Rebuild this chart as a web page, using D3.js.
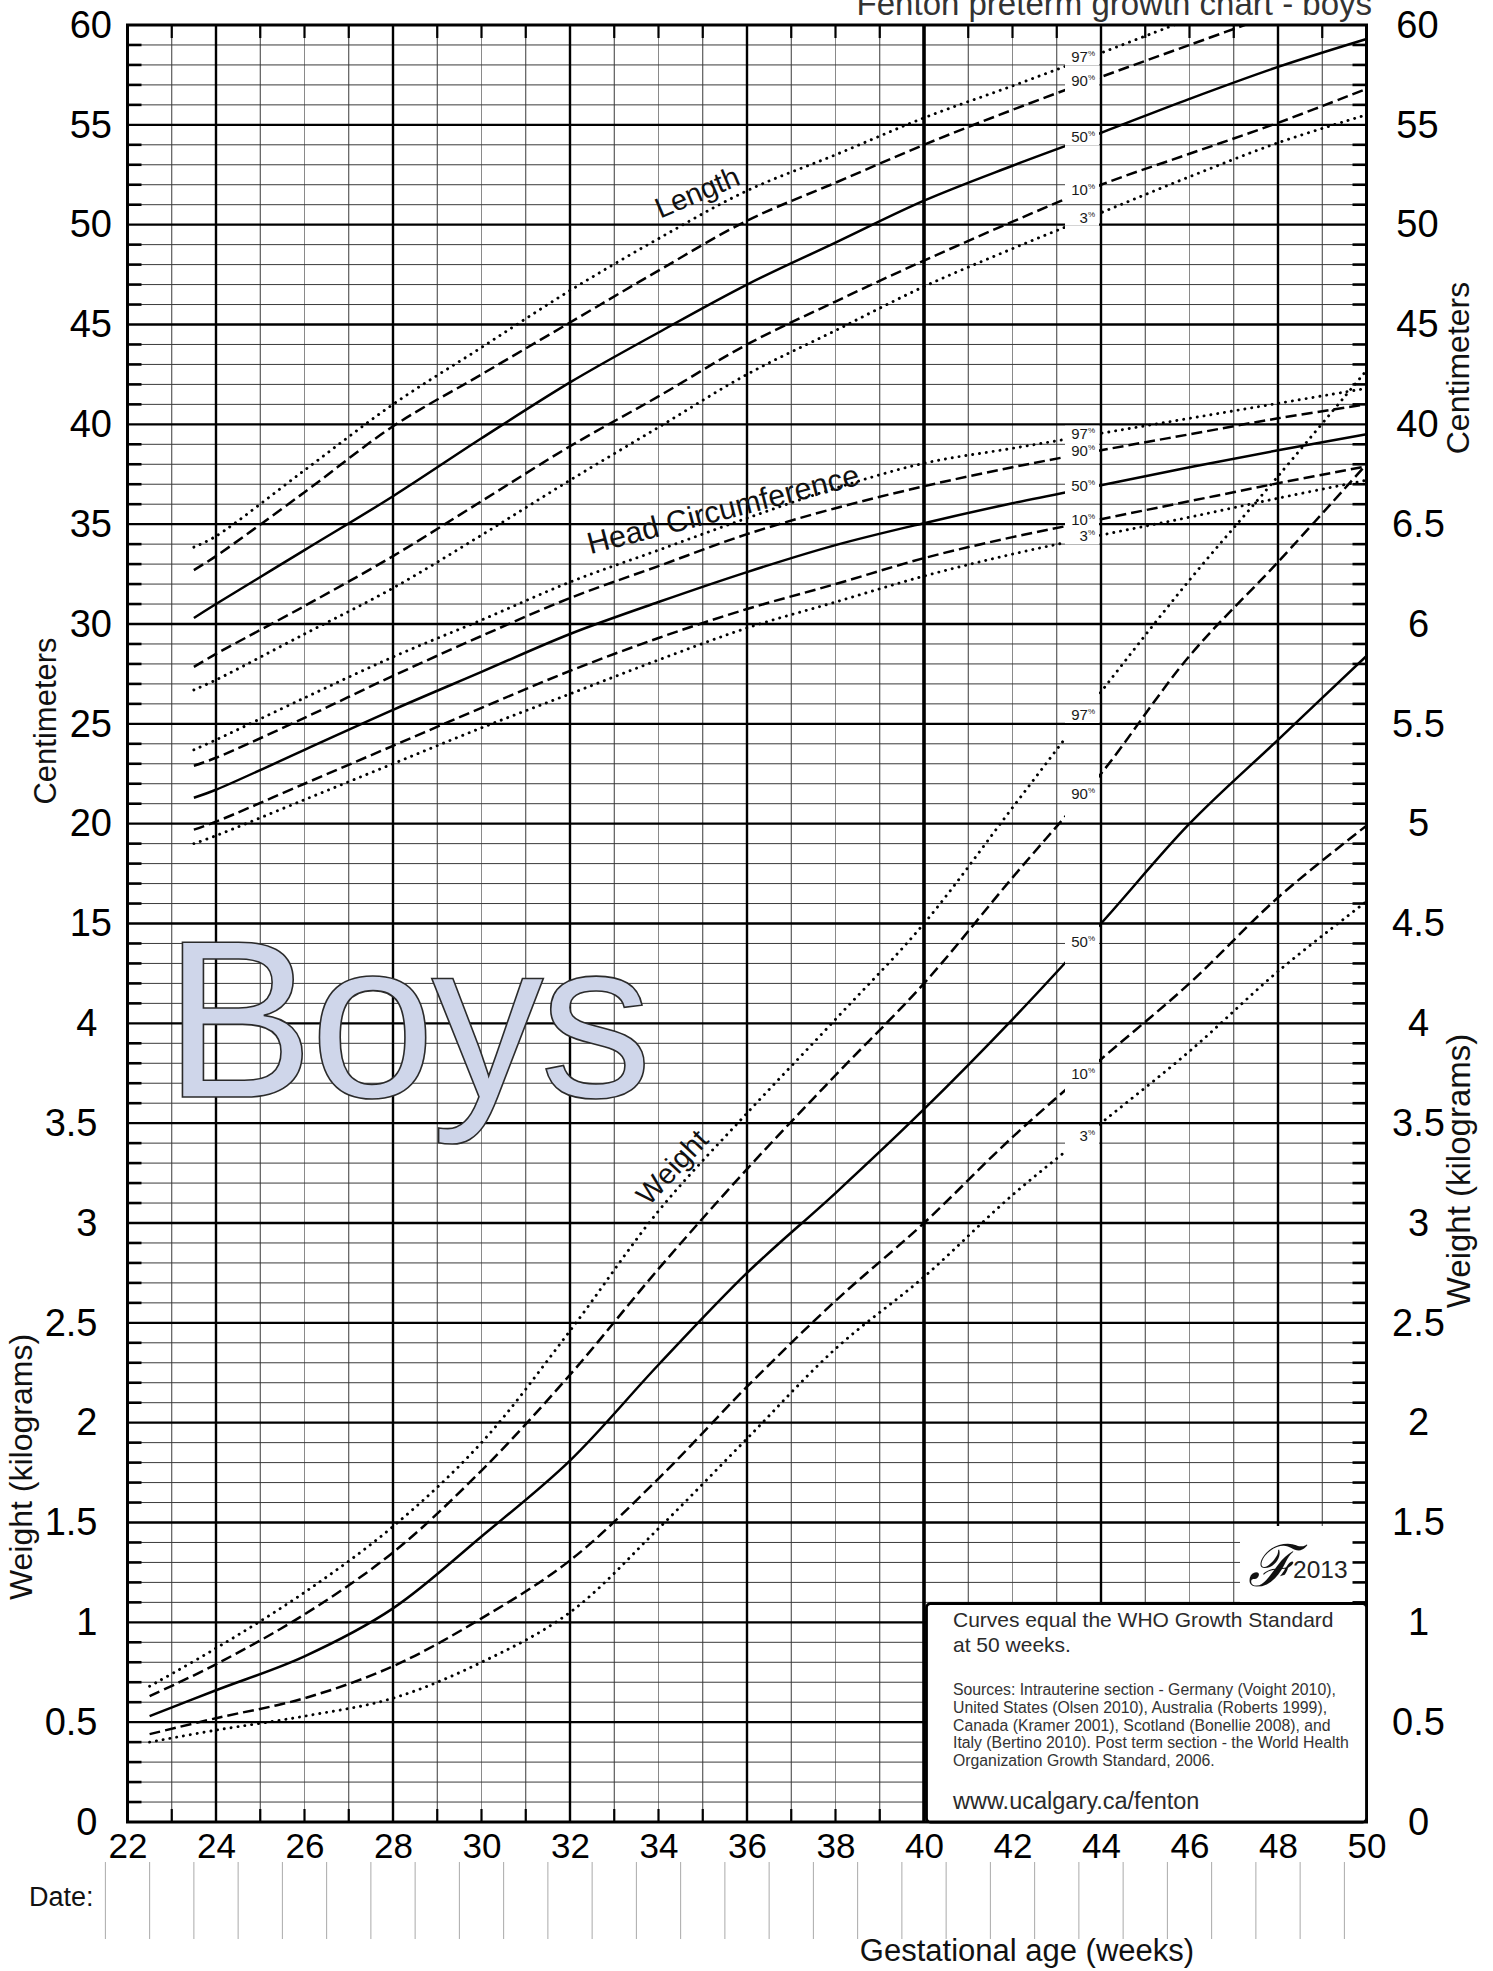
<!DOCTYPE html>
<html>
<head>
<meta charset="utf-8">
<script src="https://cdn.jsdelivr.net/npm/d3@7"></script>
<style>
  body { margin: 0; background: #fff; }
  svg text { font-family: "Liberation Sans", Arial, Helvetica, sans-serif; }
</style>
</head>
<body>
<div id="chart"></div>
<script>
// values
var percentiles = ["97", "90", "50", "10", "3"];

var lengthWeeks = [23.5, 24, 26, 28, 30, 32, 34, 36, 38, 40, 42, 44, 46, 48, 50];
var length97 = [33.85, 34.4, 37.7, 41.0, 43.85, 46.7, 49.3, 51.7, 53.5, 55.35, 56.95, 58.6, 60.3, null, null];
var length90 = [32.7, 33.4, 36.6, 39.9, 42.5, 45.1, 47.7, 50.2, 52.1, 54.0, 55.75, 57.4, 59.0, 60.6, null];
var length50 = [30.3, 31.0, 33.7, 36.4, 39.3, 42.1, 44.6, 47.0, 49.1, 51.2, 52.95, 54.6, 56.3, 57.9, 59.3];
var length10 = [27.85, 28.5, 30.9, 33.4, 36.15, 38.9, 41.4, 44.0, 46.15, 48.2, 50.15, 52.0, 53.55, 55.1, 56.8];
var length3 = [26.7, 27.2, 29.5, 31.8, 34.45, 37.2, 39.85, 42.5, 44.7, 46.9, 48.8, 50.6, 52.4, 54.1, 55.5];

var headWeeks = [23.5, 24, 26, 28, 30, 32, 34, 36, 38, 40, 42, 44, 46, 48, 50];
var head97 = [23.7, 24.2, 26.3, 28.35, 30.2, 32.1, 33.7, 35.3, 36.8, 38.05, 38.8, 39.55, 40.3, 41.05, 41.8];
var head90 = [22.9, 23.3, 25.3, 27.4, 29.4, 31.3, 32.9, 34.5, 35.8, 36.9, 37.85, 38.7, 39.5, 40.3, 41.0];
var head50 = [21.3, 21.7, 23.7, 25.7, 27.6, 29.5, 31.1, 32.6, 33.95, 35.05, 36.05, 36.95, 37.85, 38.7, 39.5];
var head10 = [19.7, 20.1, 22.0, 23.9, 25.8, 27.65, 29.3, 30.75, 32.0, 33.3, 34.35, 35.25, 36.15, 37.05, 37.9];
var head3 = [19.0, 19.4, 21.2, 23.0, 24.8, 26.5, 28.2, 29.8, 31.1, 32.4, 33.5, 34.45, 35.35, 36.3, 37.2];

var weightWeeks = [22.5, 24, 26, 28, 30, 32, 34, 36, 38, 40, 42, 44, 46, 48, 50];
var weight97 = [0.68, 0.87, 1.15, 1.48, 1.90, 2.46, 3.06, 3.55, 4.02, 4.50, 5.08, 5.66, 6.22, 6.74, 7.27];
var weight90 = [0.63, 0.79, 1.04, 1.35, 1.76, 2.24, 2.77, 3.27, 3.74, 4.20, 4.73, 5.25, 5.84, 6.31, 6.80];
var weight50 = [0.53, 0.66, 0.83, 1.07, 1.43, 1.81, 2.29, 2.75, 3.15, 3.57, 4.02, 4.50, 5.00, 5.42, 5.84];
var weight10 = [0.44, 0.52, 0.62, 0.78, 1.02, 1.31, 1.72, 2.18, 2.61, 3.00, 3.43, 3.82, 4.20, 4.63, 4.99];
var weight3 = [0.40, 0.46, 0.53, 0.62, 0.80, 1.05, 1.47, 1.92, 2.37, 2.73, 3.14, 3.50, 3.86, 4.26, 4.61];

var weekTicks = [22, 24, 26, 28, 30, 32, 34, 36, 38, 40, 42, 44, 46, 48, 50];
var cmTicksLeft = [15, 20, 25, 30, 35, 40, 45, 50, 55, 60];
var kgTicksLeft = [0, 0.5, 1, 1.5, 2, 2.5, 3, 3.5, 4];
var cmTicksRight = [40, 45, 50, 55, 60];
var kgTicksRight = [0, 0.5, 1, 1.5, 2, 2.5, 3, 3.5, 4, 4.5, 5, 5.5, 6, 6.5];

var sourceLines = [
    "Sources: Intrauterine section - Germany (Voight 2010),",
    "United States (Olsen 2010), Australia (Roberts 1999),",
    "Canada (Kramer 2001), Scotland (Bonellie 2008), and",
    "Italy (Bertino 2010). Post term section - the World Health",
    "Organization Growth Standard, 2006."
];

var width = 1493, height = 1971;
var plotLeft = 127.5, plotRight = 1366.5, plotTop = 25, plotBottom = 1822;

// one grid, 90 units high: 1 unit = 1 cm (offset 30) or 0.1 kg
var x = d3.scaleLinear().domain([22, 50]).range([plotLeft, plotRight]);
var y = d3.scaleLinear().domain([0, 90]).range([plotBottom, plotTop]);
function cmU(v) { return v + 30; }
function kgU(v) { return v * 10; }

var labelWeek = 43.55;
var gapX0 = 1065, gapX1 = 1099;

var svg = d3.select("#chart").append("svg")
    .attr("xmlns", "http://www.w3.org/2000/svg")
    .attr("width", width)
    .attr("height", height);

svg.append("rect").attr("width", width).attr("height", height).attr("fill", "#fff");

var defs = svg.append("defs");
var clip = defs.append("clipPath").attr("id", "curveClip");
clip.append("rect").attr("x", plotLeft).attr("y", plotTop).attr("width", gapX0 - plotLeft).attr("height", plotBottom - plotTop);
clip.append("rect").attr("x", gapX1).attr("y", plotTop).attr("width", plotRight - gapX1).attr("height", plotBottom - plotTop);

//grid
var grid = svg.append("g").attr("class", "grid");
var minorWeeks = d3.range(23, 50).filter(function (w) { return w % 4 !== 0; });
var majorWeeks = d3.range(24, 50, 4);
var minorUnits = d3.range(1, 90).filter(function (u) { return u % 5 !== 0; });
var majorUnits = d3.range(5, 90, 5);

grid.selectAll("line.vminor").data(minorWeeks).enter().append("line")
    .attr("class", "vminor")
    .attr("x1", function (d) { return x(d); }).attr("x2", function (d) { return x(d); })
    .attr("y1", plotTop).attr("y2", plotBottom)
    .attr("stroke", function (d) { return d % 2 === 0 ? "#8a8a8a" : "#3a3a3a"; })
    .attr("stroke-width", 1);

grid.selectAll("line.hminor").data(minorUnits).enter().append("line")
    .attr("class", "hminor")
    .attr("x1", plotLeft).attr("x2", plotRight)
    .attr("y1", function (d) { return y(d); }).attr("y2", function (d) { return y(d); })
    .attr("stroke", "#3a3a3a")
    .attr("stroke-width", 1);

grid.selectAll("line.hmajor").data(majorUnits).enter().append("line")
    .attr("class", "hmajor")
    .attr("x1", plotLeft).attr("x2", plotRight)
    .attr("y1", function (d) { return y(d); }).attr("y2", function (d) { return y(d); })
    .attr("stroke", "#000")
    .attr("stroke-width", 2.4);

grid.selectAll("line.vmajor").data(majorWeeks).enter().append("line")
    .attr("class", "vmajor")
    .attr("x1", function (d) { return x(d); }).attr("x2", function (d) { return x(d); })
    .attr("y1", plotTop).attr("y2", plotBottom)
    .attr("stroke", "#000")
    .attr("stroke-width", function (d) { return d === 40 ? 3.6 : 2.4; });

// big watermark
svg.append("text")
    .attr("x", 164).attr("y", 1097)
    .attr("font-size", 225)
    .attr("letter-spacing", -4)
    .attr("fill", "#cfd6ea")
    .attr("stroke", "#2b2b2b")
    .attr("stroke-width", 1.6)
    .text("Boys");

// curves
var lineStyles = {
    "97": { width: 2.9, dash: "0.1,6.8", cap: "round" },
    "90": { width: 2.5, dash: "11,5", cap: "butt" },
    "50": { width: 2.5, dash: null, cap: "butt" },
    "10": { width: 2.5, dash: "11,5", cap: "butt" },
    "3": { width: 2.9, dash: "0.1,6.8", cap: "round" }
};

var measures = [
    { name: "length", weeks: lengthWeeks, series: [length97, length90, length50, length10, length3], toUnit: cmU },
    { name: "head", weeks: headWeeks, series: [head97, head90, head50, head10, head3], toUnit: cmU },
    { name: "weight", weeks: weightWeeks, series: [weight97, weight90, weight50, weight10, weight3], toUnit: kgU }
];

var line = d3.line()
    .defined(function (d) { return d[1] !== null; })
    .x(function (d) { return x(d[0]); })
    .y(function (d) { return y(d[1]); })
    .curve(d3.curveCatmullRom.alpha(0.5));

function valueAt(weeks, vals, w) {
    for (var i = 0; i < weeks.length - 1; i++) {
        if (w >= weeks[i] && w <= weeks[i + 1] && vals[i] !== null && vals[i + 1] !== null) {
            var t = (w - weeks[i]) / (weeks[i + 1] - weeks[i]);
            return vals[i] + t * (vals[i + 1] - vals[i]);
        }
    }
    return null;
}

var curves = svg.append("g").attr("clip-path", "url(#curveClip)");
var labels = svg.append("g").attr("class", "pctLabels");

measures.forEach(function (m) {
    m.series.forEach(function (vals, i) {
        var p = percentiles[i];
        var st = lineStyles[p];
        var pts = m.weeks.map(function (w, j) {
            return [w, vals[j] === null ? null : m.toUnit(vals[j])];
        });
        curves.append("path")
            .datum(pts)
            .attr("class", m.name + "-" + p)
            .attr("d", line)
            .attr("fill", "none")
            .attr("stroke", "#000")
            .attr("stroke-width", st.width)
            .attr("stroke-linecap", st.cap)
            .attr("stroke-dasharray", st.dash);

        var v = valueAt(m.weeks, vals, labelWeek);
        var ly = y(m.toUnit(v)) - 3;
        labels.append("rect")
            .attr("x", gapX0).attr("y", ly - 8)
            .attr("width", gapX1 - gapX0).attr("height", 16)
            .attr("fill", "#fff");
        var t = labels.append("text")
            .attr("x", 1095).attr("y", ly + 5)
            .attr("text-anchor", "end")
            .attr("font-size", 15)
            .attr("fill", "#1a1a1a")
            .text(p);
        t.append("tspan")
            .attr("font-size", 8)
            .attr("dy", -6)
            .text("%");
    });
});

// curve names
svg.append("text")
    .attr("transform", "translate(697,192) rotate(-23)")
    .attr("text-anchor", "middle").attr("dy", "0.35em")
    .attr("font-size", 29).attr("fill", "#111")
    .text("Length");
svg.append("text")
    .attr("transform", "translate(723,509) rotate(-14.5)")
    .attr("text-anchor", "middle").attr("dy", "0.35em")
    .attr("font-size", 30.5).attr("fill", "#111")
    .text("Head Circumference");
svg.append("text")
    .attr("transform", "translate(672,1167) rotate(-47)")
    .attr("text-anchor", "middle").attr("dy", "0.35em")
    .attr("font-size", 29).attr("fill", "#111")
    .text("Weight");

// logo
svg.append("rect")
    .attr("x", 1240).attr("y", 1526)
    .attr("width", plotRight - 1240).attr("height", 1603 - 1526)
    .attr("fill", "#fff");
svg.append("text")
    .attr("x", 1248).attr("y", 1586)
    .attr("font-family", "DejaVu Serif, DejaVu Sans, serif")
    .attr("font-style", "italic")
    .attr("font-size", 58)
    .attr("fill", "#111")
    .text("\u2131");
svg.append("text")
    .attr("x", 1293).attr("y", 1578)
    .attr("font-size", 24.5)
    .attr("fill", "#222")
    .text("2013");

// frame and ticks
var frame = svg.append("g");
frame.append("rect")
    .attr("x", plotLeft).attr("y", plotTop)
    .attr("width", plotRight - plotLeft).attr("height", plotBottom - plotTop)
    .attr("fill", "none").attr("stroke", "#000").attr("stroke-width", 3);

frame.selectAll("line.tickL").data(minorUnits).enter().append("line")
    .attr("x1", plotLeft).attr("x2", plotLeft + 14)
    .attr("y1", function (d) { return y(d); }).attr("y2", function (d) { return y(d); })
    .attr("stroke", "#000").attr("stroke-width", 2.6);
frame.selectAll("line.tickR").data(minorUnits).enter().append("line")
    .attr("x1", plotRight).attr("x2", plotRight - 14)
    .attr("y1", function (d) { return y(d); }).attr("y2", function (d) { return y(d); })
    .attr("stroke", "#000").attr("stroke-width", 2.6);
frame.selectAll("line.tickT").data(minorWeeks).enter().append("line")
    .attr("x1", function (d) { return x(d); }).attr("x2", function (d) { return x(d); })
    .attr("y1", plotTop).attr("y2", plotTop + 13)
    .attr("stroke", "#000").attr("stroke-width", 2.2);
frame.selectAll("line.tickB").data(minorWeeks).enter().append("line")
    .attr("x1", function (d) { return x(d); }).attr("x2", function (d) { return x(d); })
    .attr("y1", plotBottom).attr("y2", plotBottom - 13)
    .attr("stroke", "#000").attr("stroke-width", 2.2);

// notes box, drawn over the ticks
var box = svg.append("g").attr("class", "notes");
box.append("rect")
    .attr("x", 926.5).attr("y", 1603.5)
    .attr("width", plotRight - 926.5).attr("height", plotBottom - 1603.5)
    .attr("rx", 4)
    .attr("fill", "#fff")
    .attr("stroke", "#000")
    .attr("stroke-width", 2.8);
box.append("text").attr("x", 953).attr("y", 1627).attr("font-size", 21).attr("fill", "#2a2a2a")
    .text("Curves equal the WHO Growth Standard");
box.append("text").attr("x", 953).attr("y", 1652).attr("font-size", 21).attr("fill", "#2a2a2a")
    .text("at 50 weeks.");
box.selectAll("text.src").data(sourceLines).enter().append("text")
    .attr("class", "src")
    .attr("x", 953)
    .attr("y", function (d, i) { return 1695 + i * 17.8; })
    .attr("font-size", 15.8)
    .attr("fill", "#333")
    .text(function (d) { return d; });
box.append("text").attr("x", 953).attr("y", 1809).attr("font-size", 23.5).attr("fill", "#2a2a2a")
    .text("www.ucalgary.ca/fenton");

// axis labels
function styleAxis(g, size) {
    g.select(".domain").remove();
    g.attr("font-family", null).attr("font-size", size);
    g.selectAll("text").attr("fill", "#000");
}

svg.append("g")
    .attr("transform", "translate(0," + plotBottom + ")")
    .call(d3.axisBottom(x).tickValues(weekTicks).tickSize(0).tickPadding(11).tickFormat(d3.format("d")))
    .call(styleAxis, 35);

svg.append("g")
    .attr("transform", "translate(" + plotLeft + ",0)")
    .call(d3.axisLeft(y).tickValues(cmTicksLeft.map(cmU)).tickSize(0).tickPadding(15.5)
        .tickFormat(function (u) { return u - 30; }))
    .call(styleAxis, 38);
svg.append("g")
    .attr("transform", "translate(" + plotLeft + ",0)")
    .call(d3.axisLeft(y).tickValues(kgTicksLeft.map(kgU)).tickSize(0).tickPadding(30)
        .tickFormat(function (u) { return d3.format("~g")(u / 10); }))
    .call(styleAxis, 38);

svg.append("g")
    .attr("transform", "translate(" + plotRight + ",0)")
    .call(d3.axisRight(y).tickValues(cmTicksRight.map(cmU)).tickSize(0).tickPadding(51)
        .tickFormat(function (u) { return u - 30; }))
    .call(styleAxis, 38)
    .selectAll("text").attr("text-anchor", "middle");
svg.append("g")
    .attr("transform", "translate(" + plotRight + ",0)")
    .call(d3.axisRight(y).tickValues(kgTicksRight.map(kgU)).tickSize(0).tickPadding(52)
        .tickFormat(function (u) { return d3.format("~g")(u / 10); }))
    .call(styleAxis, 38)
    .selectAll("text").attr("text-anchor", "middle");

// axis titles
svg.append("text")
    .attr("transform", "translate(45,721) rotate(-90)")
    .attr("text-anchor", "middle").attr("dy", "0.35em")
    .attr("font-size", 31).attr("fill", "#111")
    .text("Centimeters");
svg.append("text")
    .attr("transform", "translate(22,1467) rotate(-90)")
    .attr("text-anchor", "middle").attr("dy", "0.3em")
    .attr("font-size", 32).attr("fill", "#111")
    .text("Weight (kilograms)");
svg.append("text")
    .attr("transform", "translate(1458,368) rotate(-90)")
    .attr("text-anchor", "middle").attr("dy", "0.35em")
    .attr("font-size", 32).attr("fill", "#111")
    .text("Centimeters");
svg.append("text")
    .attr("transform", "translate(1460,1171) rotate(-90)")
    .attr("text-anchor", "middle").attr("dy", "0.3em")
    .attr("font-size", 33).attr("fill", "#111")
    .text("Weight (kilograms)");

svg.append("text")
    .attr("x", 1372).attr("y", 15)
    .attr("text-anchor", "end")
    .attr("font-size", 33)
    .attr("fill", "#333")
    .text("Fenton preterm growth chart - boys");

// date row
var dateWeeks = d3.range(21.5, 50, 1);
svg.selectAll("line.date").data(dateWeeks).enter().append("line")
    .attr("class", "date")
    .attr("x1", function (d) { return x(d); }).attr("x2", function (d) { return x(d); })
    .attr("y1", 1862).attr("y2", 1939)
    .attr("stroke", "#aaa").attr("stroke-width", 1);
svg.append("text")
    .attr("x", 29).attr("y", 1906)
    .attr("font-size", 27).attr("fill", "#111")
    .text("Date:");

svg.append("text")
    .attr("x", 1027).attr("y", 1961)
    .attr("text-anchor", "middle")
    .attr("font-size", 31).attr("fill", "#111")
    .text("Gestational age (weeks)");
</script>
</body>
</html>
